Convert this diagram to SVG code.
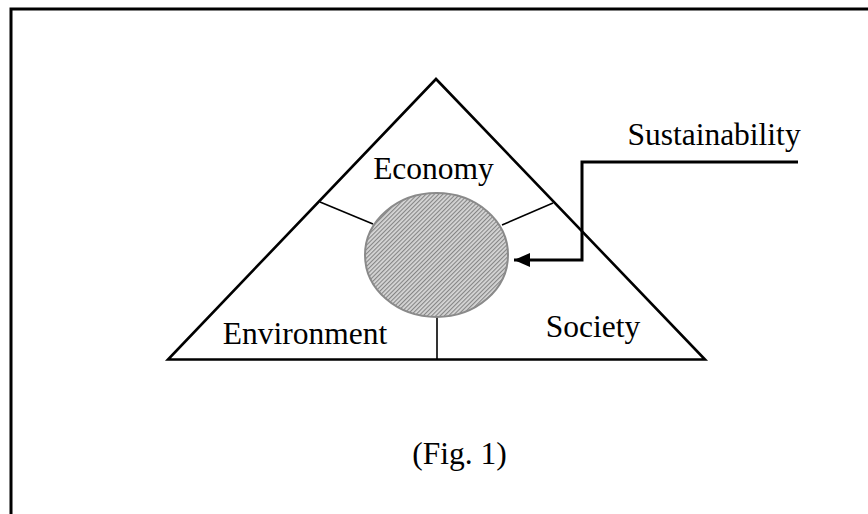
<svg xmlns="http://www.w3.org/2000/svg" width="868" height="514" viewBox="0 0 868 514">
<defs>
<style>
.lbl{font-family:"Liberation Serif","Times New Roman",serif;font-size:31.5px;fill:#000}
.thin{stroke:#000;stroke-width:1.6;fill:none}
</style>
<pattern id="hatch" width="3" height="3" patternUnits="userSpaceOnUse" patternTransform="rotate(45)">
<rect width="3" height="3" fill="#d6d6d6"/>
<rect width="1.1" height="3" fill="#858585"/>
</pattern>
<marker id="ah" viewBox="0 0 16 14" refX="16" refY="7" markerWidth="16" markerHeight="14" markerUnits="userSpaceOnUse" orient="auto">
<path d="M0,0 L16,7 L0,14 Z" fill="#000"/>
</marker>
</defs>
<rect width="868" height="514" fill="#fff"/>
<path d="M11,520 V9 H872" fill="none" stroke="#000" stroke-width="3"/>
<g id="triangle">
<polygon points="436,79 168,359.5 705,359.5" fill="none" stroke="#000" stroke-width="2.6" stroke-linejoin="miter"/>
</g>
<g id="dividers">
<line class="thin" x1="320" y1="202" x2="373" y2="224"/>
<line class="thin" x1="502" y1="225" x2="553" y2="203"/>
<line class="thin" x1="437" y1="317" x2="437" y2="359"/>
</g>
<g id="sustainability-circle">
<ellipse cx="436.5" cy="255" rx="71.5" ry="62" fill="url(#hatch)" stroke="#8a8a8a" stroke-width="2"/>
</g>
<g id="economy"><text class="lbl" x="433.5" y="179" text-anchor="middle">Economy</text></g>
<g id="environment"><text class="lbl" x="305" y="344" text-anchor="middle">Environment</text></g>
<g id="society"><text class="lbl" x="593" y="337" text-anchor="middle">Society</text></g>
<g id="sustainability"><text class="lbl" x="714" y="145" text-anchor="middle">Sustainability</text></g>
<g id="connectors">
<polyline points="798,162 582,162 582,260 514,260" fill="none" stroke="#000" stroke-width="3" marker-end="url(#ah)"/>
</g>
<g id="caption"><text class="lbl" x="459.5" y="464" text-anchor="middle">(Fig. 1)</text></g>
</svg>
